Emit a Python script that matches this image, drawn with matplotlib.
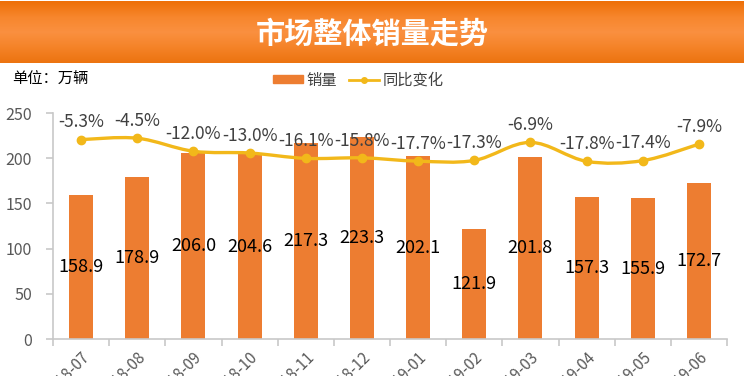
import numpy as np
import matplotlib
matplotlib.use('Agg')
import matplotlib.pyplot as plt
from matplotlib.path import Path
from matplotlib.patches import PathPatch, Patch
from matplotlib.lines import Line2D
from matplotlib.colors import LinearSegmentedColormap

plt.rcParams['font.family'] = ['Noto Sans CJK SC', 'DejaVu Sans']

months = ['2018-07', '2018-08', '2018-09', '2018-10', '2018-11', '2018-12',
          '2019-01', '2019-02', '2019-03', '2019-04', '2019-05', '2019-06']
sales = [158.9, 178.9, 206.0, 204.6, 217.3, 223.3,
         202.1, 121.9, 201.8, 157.3, 155.9, 172.7]
yoy = [-5.3, -4.5, -12.0, -13.0, -16.1, -15.8,
       -17.7, -17.3, -6.9, -17.8, -17.4, -7.9]

BAR = '#ED7D31'
LINE = '#F2B81A'
GRAY = '#595959'


def smooth_path(xs, ys):
    # catmull-rom style bezier through the points, like excel's smoothed line
    pts = np.column_stack([xs, ys]).astype(float)
    verts = [pts[0]]
    codes = [Path.MOVETO]
    n = len(pts)
    for i in range(n - 1):
        p0 = pts[i - 1] if i > 0 else pts[i]
        p1, p2 = pts[i], pts[i + 1]
        p3 = pts[i + 2] if i + 2 < n else pts[i + 1]
        verts += [p1 + (p2 - p0) / 6, p2 - (p3 - p1) / 6, p2]
        codes += [Path.CURVE4] * 3
    return Path(verts, codes)


def main():
    fig = plt.figure(figsize=(7.44, 3.76), dpi=100)

    # title banner
    banner = fig.add_axes([0, 1 - 63 / 376, 1, 62 / 376])
    cmap = LinearSegmentedColormap.from_list(
        'banner', ['#EE7008', '#F7862C', '#FA9040', '#F58328', '#EC7410'])
    banner.imshow(np.linspace(0, 1, 64).reshape(-1, 1), cmap=cmap,
                  aspect='auto', extent=[0, 1, 0, 1])
    banner.set_xlim(0, 1)
    banner.set_ylim(0, 1)
    banner.axis('off')
    banner.text(0.5, 0.47, '市场整体销量走势', color='white', fontsize=21,
                fontweight='bold', ha='center', va='center')

    fig.text(12 / 744, 1 - 79 / 376, '单位：万辆', fontsize=11,
             va='center', ha='left', color='black')

    ax = fig.add_axes([53 / 744, 1 - 339 / 376, 674 / 744, 226 / 376])
    x = np.arange(len(months))
    ax.bar(x, sales, width=0.43, color=BAR, zorder=2)
    for i, v in enumerate(sales):
        ax.text(i, v / 2, f'{v:.1f}', ha='center', va='center',
                fontsize=13, color='black', zorder=5)

    ax.set_xlim(-0.5, len(months) - 0.5)
    ax.set_ylim(0, 250)
    ax.set_yticks(range(0, 251, 50))
    ax.set_xticks(np.arange(-0.5, len(months), 1.0))
    ax.set_xticklabels([])
    ax.set_xticks(x, minor=True)
    ax.set_xticklabels(months, minor=True, rotation=45, ha='right',
                       va='top', rotation_mode='anchor')
    ax.tick_params(axis='x', which='major', length=5, width=1.2,
                   color='#C8C8C8', direction='out')
    ax.tick_params(axis='x', which='minor', length=0, pad=7,
                   labelsize=11, labelcolor=GRAY)
    ax.tick_params(axis='y', length=5, width=1.2, color='#C8C8C8',
                   labelsize=11.5, labelcolor=GRAY, pad=10)
    for s in ['top', 'right']:
        ax.spines[s].set_visible(False)
    for s in ['left', 'bottom']:
        ax.spines[s].set_color('#C8C8C8')
        ax.spines[s].set_linewidth(1.2)

    ax2 = ax.twinx()
    ax2.set_ylim(-120, 10)
    ax2.axis('off')
    ax2.add_patch(PathPatch(smooth_path(x, yoy), facecolor='none',
                            edgecolor=LINE, lw=2.4, zorder=3))
    ax2.plot(x, yoy, 'o', color=LINE, ms=6, zorder=4)
    for i, p in enumerate(yoy):
        ax2.annotate(f'{p:.1f}%', (i, p), xytext=(0, 6),
                     textcoords='offset points', ha='center', va='bottom',
                     fontsize=12.5, color='#404040')

    handles = [Patch(color=BAR),
               Line2D([], [], color=LINE, lw=2, marker='o', ms=4)]
    fig.legend(handles, ['销量', '同比变化'], loc='center',
               bbox_to_anchor=(358 / 744, 1 - 80 / 376), ncol=2,
               frameon=False, fontsize=11, handlelength=2.0,
               handleheight=0.5, handletextpad=0.2, columnspacing=0.8,
               labelcolor='#404040')

    fig.savefig('out.png', dpi=100)


if __name__ == '__main__':
    main()
